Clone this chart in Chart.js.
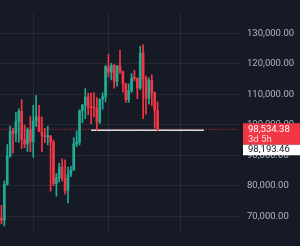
<!DOCTYPE html>
<html>
<head>
<meta charset="utf-8">
<script src="https://cdn.jsdelivr.net/npm/chart.js@4"></script>
<style>
  html, body { margin: 0; padding: 0; background: #161a25; }
  #wrap { width: 300px; height: 246px; }
</style>
</head>
<body>
<div id="wrap"><canvas id="chart-btc" width="300" height="246"></canvas></div>
<script>
// weekly candles, BTC/USDT
var weeks = ["2024-10-28", "2024-11-04", "2024-11-11", "2024-11-18", "2024-11-25", "2024-12-02", "2024-12-09",
    "2024-12-16", "2024-12-23", "2024-12-30", "2025-01-06", "2025-01-13", "2025-01-20", "2025-01-27",
    "2025-02-03", "2025-02-10", "2025-02-17", "2025-02-24", "2025-03-03", "2025-03-10", "2025-03-17",
    "2025-03-24", "2025-03-31", "2025-04-07", "2025-04-14", "2025-04-21", "2025-04-28", "2025-05-05",
    "2025-05-12", "2025-05-19", "2025-05-26", "2025-06-02", "2025-06-09", "2025-06-16", "2025-06-23",
    "2025-06-30", "2025-07-07", "2025-07-14", "2025-07-21", "2025-07-28", "2025-08-04", "2025-08-11",
    "2025-08-18", "2025-08-25", "2025-09-01", "2025-09-08", "2025-09-15", "2025-09-22", "2025-09-29",
    "2025-10-06", "2025-10-13", "2025-10-20", "2025-10-27", "2025-11-03", "2025-11-10"];
var opens  = [69400, 68700, 80400, 89800, 97900, 97200, 101100, 104400, 95100, 93700, 98300, 94500, 101300, 102600,
    97700, 96500, 96100, 96300, 94300, 80700, 82600, 86100, 82400, 78400, 83700, 85100, 93700, 94300,
    104600, 106400, 109100, 105700, 105600, 105500, 100900, 108300, 109200, 119000, 117300, 119400, 114200, 119300,
    117400, 113500, 108200, 111100, 115300, 115200, 112100, 123500, 115200, 108700, 114500, 110600, 104700];
var highs  = [73600, 81500, 93500, 99600, 98900, 104000, 105200, 108300, 99900, 99000, 102700, 106400, 109600, 106400,
    102500, 98800, 99500, 96500, 95000, 84000, 87400, 88800, 88500, 86100, 86400, 95800, 97900, 104900,
    106700, 111900, 110400, 110400, 110600, 108900, 108500, 110500, 119500, 123200, 120200, 119800, 119300, 124500,
    117600, 113500, 113400, 116800, 117900, 115400, 125700, 126200, 116000, 115400, 116400, 110800, 107500];
var lows   = [67500, 66800, 80200, 89400, 90800, 94500, 94200, 92200, 92500, 91300, 91200, 89300, 99500, 97700,
    91200, 94100, 93400, 78200, 80000, 76600, 81200, 81600, 77200, 74400, 83000, 85100, 92800, 93400,
    100700, 102000, 103200, 100400, 102600, 98200, 100400, 105100, 107500, 115700, 114700, 112000, 112700, 116800,
    110700, 107300, 107300, 110600, 114400, 108600, 111500, 102000, 103500, 106800, 106300, 98900, 98000];
var closes = [68700, 80400, 89800, 97900, 97200, 101100, 104400, 95100, 93700, 98300, 94500, 101300, 102600, 97700,
    96500, 96100, 96300, 94300, 80700, 82600, 86100, 82400, 78400, 83700, 85100, 93700, 94300, 104600,
    106400, 109100, 105700, 105600, 105500, 100900, 108300, 109200, 119000, 117300, 119400, 114200, 119300, 117400,
    113500, 108200, 111100, 115300, 115200, 112100, 123500, 115200, 108700, 114500, 110600, 104700, 98534.38];

var priceTicks = [70000, 80000, 90000, 100000, 110000, 120000, 130000];
var futureWeeks = 28;          // empty space right of the last candle
var gridWeeks = [11, 37, 62];  // half-year marks
var lastPrice = 98534.38;
var timeLeft = "3d 5h";
var levelPrice = 98193.46;
var levelFrom = 31;
var levelTo = 70;
var yMin = 64400;
var yMax = 136770;

var GREEN = "#22ab94";
var RED = "#f23645";
var BG = "#161a25";
var GRID = "rgba(255, 255, 255, .065)";

var labels = weeks.slice();
for (let i = 0; i < futureWeeks; i++) labels.push("");

var candleColors = opens.map((o, i) => closes[i] >= o ? GREEN : RED);
var levelData = labels.map((l, i) => (i == levelFrom || i == levelTo) ? levelPrice : null);

function fmt(v) {
    return v.toLocaleString("en-US", {minimumFractionDigits: 2, maximumFractionDigits: 2});
}

var bgPlugin = {
    id: "bg",
    beforeDraw(chart) {
        let ctx = chart.ctx;
        ctx.save();
        ctx.fillStyle = BG;
        ctx.fillRect(0, 0, chart.width, chart.height);
        ctx.restore();
    }
};

var priceTagPlugin = {
    id: "priceTags",
    afterDraw(chart) {
        let ctx = chart.ctx;
        let y = chart.scales.y.getPixelForValue(lastPrice);
        let left = chart.chartArea.right + 3;
        let w = chart.width - left;
        ctx.save();
        ctx.fillStyle = RED;
        ctx.fillRect(left, y - 6, w, 21.5);
        ctx.fillStyle = "#ffffff";
        ctx.fillRect(left, y + 15.5, w, 10.5);
        ctx.font = "9.5px Roboto";
        ctx.textBaseline = "middle";
        ctx.textAlign = "left";
        ctx.fillStyle = "#ffffff";
        ctx.fillText(fmt(lastPrice), left + 5, y);
        ctx.fillStyle = "rgba(255, 255, 255, .8)";
        ctx.fillText(timeLeft, left + 5, y + 10);
        ctx.fillStyle = "#131722";
        ctx.fillText(fmt(levelPrice), left + 5, y + 20.5);
        ctx.restore();
    }
};

var ctx2 = document.getElementById("chart-btc").getContext("2d");
var chart = new Chart(ctx2, {
    data: {
        labels: labels,
        datasets: [{
            type: "bar",
            label: "body",
            data: opens.map((o, i) => [o, closes[i]]),
            backgroundColor: candleColors,
            barThickness: 2,
            minBarLength: 1,
            grouped: false,
            order: 0
        }, {
            type: "bar",
            label: "wick",
            data: lows.map((l, i) => [l, highs[i]]),
            backgroundColor: candleColors,
            barThickness: 1,
            grouped: false,
            order: 1
        }, {
            type: "line",
            label: "level",
            data: levelData,
            spanGaps: true,
            borderColor: "#d8dbe2",
            borderWidth: 1.5,
            pointRadius: 0,
            order: 2
        }, {
            type: "line",
            label: "last",
            data: labels.map(() => lastPrice),
            borderColor: RED,
            borderWidth: 1,
            borderDash: [1, 2],
            pointRadius: 0,
            order: 3
        }]
    },
    options: {
        responsive: false,
        animation: false,
        layout: { padding: 0 },
        plugins: {
            legend: { display: false },
            tooltip: { enabled: false }
        },
        scales: {
            x: {
                type: "category",
                offset: true,
                grid: {
                    offset: false,
                    drawTicks: false,
                    color: (c) => gridWeeks.includes(c.index) ? GRID : "transparent"
                },
                border: { display: false },
                ticks: { display: false },
                afterFit: (s) => { s.height = 0; }
            },
            y: {
                position: "right",
                min: yMin,
                max: yMax,
                grid: {
                    drawTicks: false,
                    color: GRID
                },
                border: { display: false },
                ticks: {
                    padding: 7,
                    color: "#b2b5be",
                    font: { size: 9.5, family: "Roboto" },
                    callback: (v) => fmt(v)
                },
                afterBuildTicks: (s) => { s.ticks = priceTicks.map((v) => ({ value: v })); },
                afterFit: (s) => { s.width = 60; }
            }
        }
    },
    plugins: [bgPlugin, priceTagPlugin]
});
</script>
</body>
</html>
